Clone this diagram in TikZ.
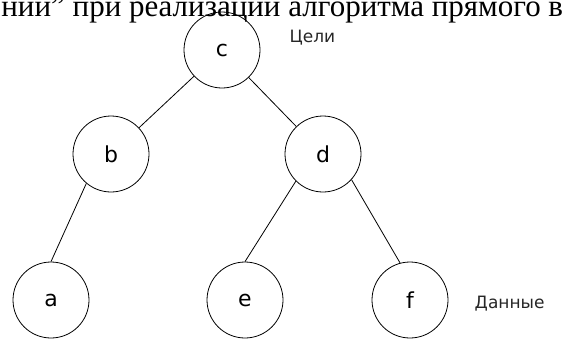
\documentclass[tikz,border=0pt]{standalone}
\usepackage{fontspec}
\setmainfont{Liberation Serif}
\newfontfamily\lblfont{DejaVu Sans}
\usepackage{tikz}
\usetikzlibrary{automata, positioning}

\begin{document}
\begin{tikzpicture}[x=1pt,y=-1pt,line width=0.8pt,
    every state/.style={draw=black,minimum size=76pt,inner sep=0pt,font=\lblfont\fontsize{22}{26}\selectfont},
    side/.style={anchor=west,font=\lblfont\fontsize{17}{20}\selectfont,text=black!85}]
    \useasboundingbox (0,0) rectangle (562,338);
    \clip (0,0) rectangle (562,338);

    % cut-off caption line above the figure
    \node[anchor=base west,inner sep=0pt,font=\fontsize{31}{34}\selectfont] (cap) at (1,16)
        {ний” при реализации алгоритма прямого в};

    \node[state] (c) at (222,50) {c};
    \node[state] (b) at (111,154) {b};
    \node[state] (d) at (323,154) {d};
    \node[state] (a) at (51,300) {a};
    \node[state] (e) at (245,300) {e};
    \node[state] (f) at (410,300) {f};

    \node[side] (goals) at (286,38) {Цели};
    \node[side] (data) at (471,304) {Данные};

    \path (c) edge (b)
          (c) edge (d)
          (b.230) edge (a.north)
          (d.225) edge (e.north)
          (d.318) edge (f.105);
\end{tikzpicture}
\end{document}
